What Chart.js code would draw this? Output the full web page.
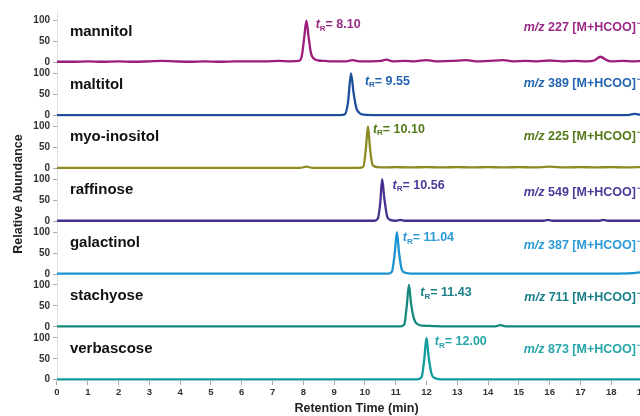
<!DOCTYPE html>
<html>
<head>
<meta charset="utf-8">
<script src="https://cdn.jsdelivr.net/npm/chart.js@4.4.1/dist/chart.umd.min.js"></script>
<style>
  html, body { margin: 0; padding: 0; background: #ffffff; overflow: hidden; width: 640px; height: 416px; }
  #wrap { position: absolute; left: 0; top: 0; width: 650px; height: 416px; }
</style>
</head>
<body>
<div id="wrap"><canvas id="c" width="650" height="416"></canvas></div>
<script>
// ---------------- data ----------------
const compounds = ['mannitol', 'maltitol', 'myo-inositol', 'raffinose', 'galactinol', 'stachyose', 'verbascose'];
const retentionTimes = ['8.10', '9.55', '10.10', '10.56', '11.04', '11.43', '12.00'];
const mzValues = ['227', '389', '225', '549', '387', '711', '873'];
const xTicks = [0,1,2,3,4,5,6,7,8,9,10,11,12,13,14,15,16,17,18,19];
const yTicks = [0, 50, 100];

// chromatogram traces: [retention time (min), relative abundance]
const mannitol = [[0,2],[0.5,2],[1,3],[1.5,2],[2,3],[2.5,2],[3,3],[3.4,4],[3.8,3],[4.3,2],[4.8,3],[5.3,2],[5.8,3],[6.3,3],[6.8,3],[7.2,4],[7.6,3],[7.85,4],[7.95,15],[8.03,60],[8.1,100],[8.17,62],[8.25,22],[8.35,9],[8.5,5],[8.7,4],[8.9,3],[9.1,3],[9.4,3],[9.6,6],[9.8,3],[10.1,3],[10.5,4],[10.7,7],[10.9,3],[11.3,4],[11.6,3],[12.0,6],[12.3,3],[12.8,4],[13.3,6],[13.6,3],[14.0,4],[14.5,6],[14.8,3],[15.2,4],[15.6,3],[16.0,5],[16.4,3],[16.8,4],[17.2,3],[17.45,5],[17.65,14],[17.85,6],[18.0,3],[18.4,4],[18.7,3],[19,4]];
const maltitol = [[0,1],[2,1],[4,1],[6,1],[8,1],[9.2,1],[9.35,3],[9.45,30],[9.55,100],[9.63,55],[9.72,18],[9.82,6],[9.95,2],[10.2,1],[12,1],[14,1],[16,1],[18,1],[18.55,1],[18.75,4],[19,1]];
const myoInositol = [[0,1],[2,1],[4,1],[6,1],[7.9,1],[8.1,4],[8.3,1],[9.8,1],[9.95,4],[10.03,45],[10.1,100],[10.17,45],[10.25,8],[10.4,3],[10.7,2],[11,3],[11.5,2],[12,3],[12.5,2],[13,3],[13.5,2],[14,3],[14.5,2],[15,3],[15.5,2],[16,4],[16.5,2],[17,3],[17.5,2],[18,3],[18.5,2],[19,3]];
const raffinose = [[0,1],[3,1],[6,1],[9,1],[10.3,1],[10.42,6],[10.5,45],[10.56,100],[10.63,55],[10.72,12],[10.82,3],[11.0,1],[11.15,3],[11.3,1],[13,1],[15.8,1],[15.95,3],[16.1,1],[17.6,1],[17.75,3],[17.9,1],[19,1]];
const galactinol = [[0,1],[3,1],[6,1],[9,1],[10.75,1],[10.88,6],[10.97,50],[11.04,100],[11.11,50],[11.2,10],[11.32,3],[11.5,1],[14,1],[16,1],[18,1],[18.7,2],[18.9,4],[19,2]];
const stachyose = [[0,1],[3,1],[6,1],[9,1],[11.15,1],[11.28,6],[11.36,50],[11.43,100],[11.5,55],[11.6,18],[11.72,6],[11.9,3],[12.2,2],[12.6,1],[14.2,1],[14.4,4],[14.6,1],[16,1],[19,1]];
const verbascose = [[0,1],[3,1],[6,1],[9,1],[11.7,1],[11.84,6],[11.93,50],[12.0,100],[12.07,55],[12.16,15],[12.27,4],[12.45,1],[14,1],[16,1],[19,1]];
const traces = [mannitol, maltitol, myoInositol, raffinose, galactinol, stachyose, verbascose];

// ---------------- styling / label placement ----------------
const lineColors = ['#9c1d7d', '#1f4f9b', '#8d8b22', '#47308f', '#1b93d1', '#16877b', '#0f9c9c'];
const textColors = ['#9a2a86', '#2366b0', '#53791a', '#4a3a9a', '#2a9bd6', '#1a7f88', '#27a5aa'];
const nameAnchor = { t: 0.42, v: 74 };
const tLabelT = [8.4, 10.0, 10.26, 10.9, 11.23, 11.8, 12.27];
const tLabelV = [90, 81, 93, 86, 86, 81, 90];
const mzLabelV = [83, 76, 76, 69, 69, 71, 71];
const mzRightT = 18.8;
const FONT = '"Liberation Sans", Arial, Helvetica, sans-serif';

const datasets = traces.map((tr, i) => ({
  label: compounds[i],
  data: tr.map(p => ({ x: p[0], y: p[1] })),
  yAxisID: 'y' + i,
  borderColor: lineColors[i],
  backgroundColor: lineColors[i],
  borderWidth: 2.3,
  pointRadius: 0,
  cubicInterpolationMode: 'monotone',
  fill: false
}));

const scales = {
  x: {
    type: 'linear',
    min: 0, max: 19,
    afterBuildTicks: s => { s.ticks = xTicks.map(v => ({ value: v })); },
    afterFit: s => { s.height = 35; },
    grid: { display: true, drawOnChartArea: false, drawTicks: true, tickLength: 4, color: '#aaaaaa' },
    border: { display: false },
    ticks: { autoSkip: false, maxRotation: 0, padding: 2, color: '#333333', font: { family: FONT, size: 9.5, weight: 'bold' } }
  }
};
// stacked axes are laid out bottom-up, so define the bottom panel first
for (let i = compounds.length - 1; i >= 0; i--) {
  scales['y' + i] = {
    type: 'linear',
    position: 'left',
    stack: 'panels',
    stackWeight: 1,
    min: -3, max: 123,
    afterBuildTicks: s => { s.ticks = yTicks.map(v => ({ value: v })); },
    afterFit: s => { s.width = 57; },
    grid: { display: true, drawOnChartArea: false, drawTicks: true, tickLength: 4, color: '#aaaaaa' },
    border: { display: true, color: '#e4e4e4', width: 1 },
    ticks: { autoSkip: false, padding: 3, color: '#333333', font: { family: FONT, size: 10, weight: 'bold' } }
  };
}

const labelPlugin = {
  id: 'labels',
  afterDatasetsDraw(chart) {
    const ctx = chart.ctx;
    const xs = chart.scales.x;
    ctx.save();
    ctx.textBaseline = 'middle';
    compounds.forEach((name, i) => {
      const ys = chart.scales['y' + i];
      ctx.fillStyle = '#111111';
      ctx.textAlign = 'left';
      ctx.font = 'bold 15px ' + FONT;
      ctx.fillText(name, xs.getPixelForValue(nameAnchor.t), ys.getPixelForValue(nameAnchor.v));
      let x = xs.getPixelForValue(tLabelT[i]);
      const y = ys.getPixelForValue(tLabelV[i]);
      ctx.fillStyle = textColors[i];
      ctx.font = 'italic bold 12.5px ' + FONT;
      ctx.fillText('t', x, y);
      x += ctx.measureText('t').width;
      ctx.font = 'bold 8px ' + FONT;
      ctx.fillText('R', x, y + 3.5);
      x += ctx.measureText('R').width;
      ctx.font = 'bold 12.5px ' + FONT;
      ctx.fillText('= ' + retentionTimes[i], x, y);
      const yr = ys.getPixelForValue(mzLabelV[i]);
      const right = xs.getPixelForValue(mzRightT);
      ctx.font = 'bold 12.5px ' + FONT;
      const main = ' ' + mzValues[i] + ' [M+HCOO]';
      const wMain = ctx.measureText(main).width;
      ctx.font = 'italic bold 12.5px ' + FONT;
      const wMz = ctx.measureText('m/z').width;
      const xl = right - wMain - wMz;
      ctx.fillText('m/z', xl, yr);
      ctx.font = 'bold 12.5px ' + FONT;
      ctx.fillText(main, xl + wMz, yr);
      ctx.font = 'bold 9px ' + FONT;
      ctx.fillText('\u2212', right + 1, yr - 4);
    });
    ctx.fillStyle = '#222222';
    ctx.font = 'bold 12.5px ' + FONT;
    ctx.textAlign = 'center';
    ctx.fillText('Retention Time (min)', (xs.left + xs.right) / 2 + 7, 409);
    ctx.save();
    ctx.translate(19, 194);
    ctx.rotate(-Math.PI / 2);
    ctx.fillText('Relative Abundance', 0, 0);
    ctx.restore();
    ctx.restore();
  }
};

new Chart(document.getElementById('c'), {
  type: 'line',
  data: { datasets },
  options: {
    responsive: false,
    animation: false,
    devicePixelRatio: 1,
    layout: { padding: { left: 0, right: 8, top: 11, bottom: 0 } },
    plugins: { legend: { display: false }, tooltip: { enabled: false }, title: { display: false } },
    scales
  },
  plugins: [labelPlugin]
});
</script>
</body>
</html>
